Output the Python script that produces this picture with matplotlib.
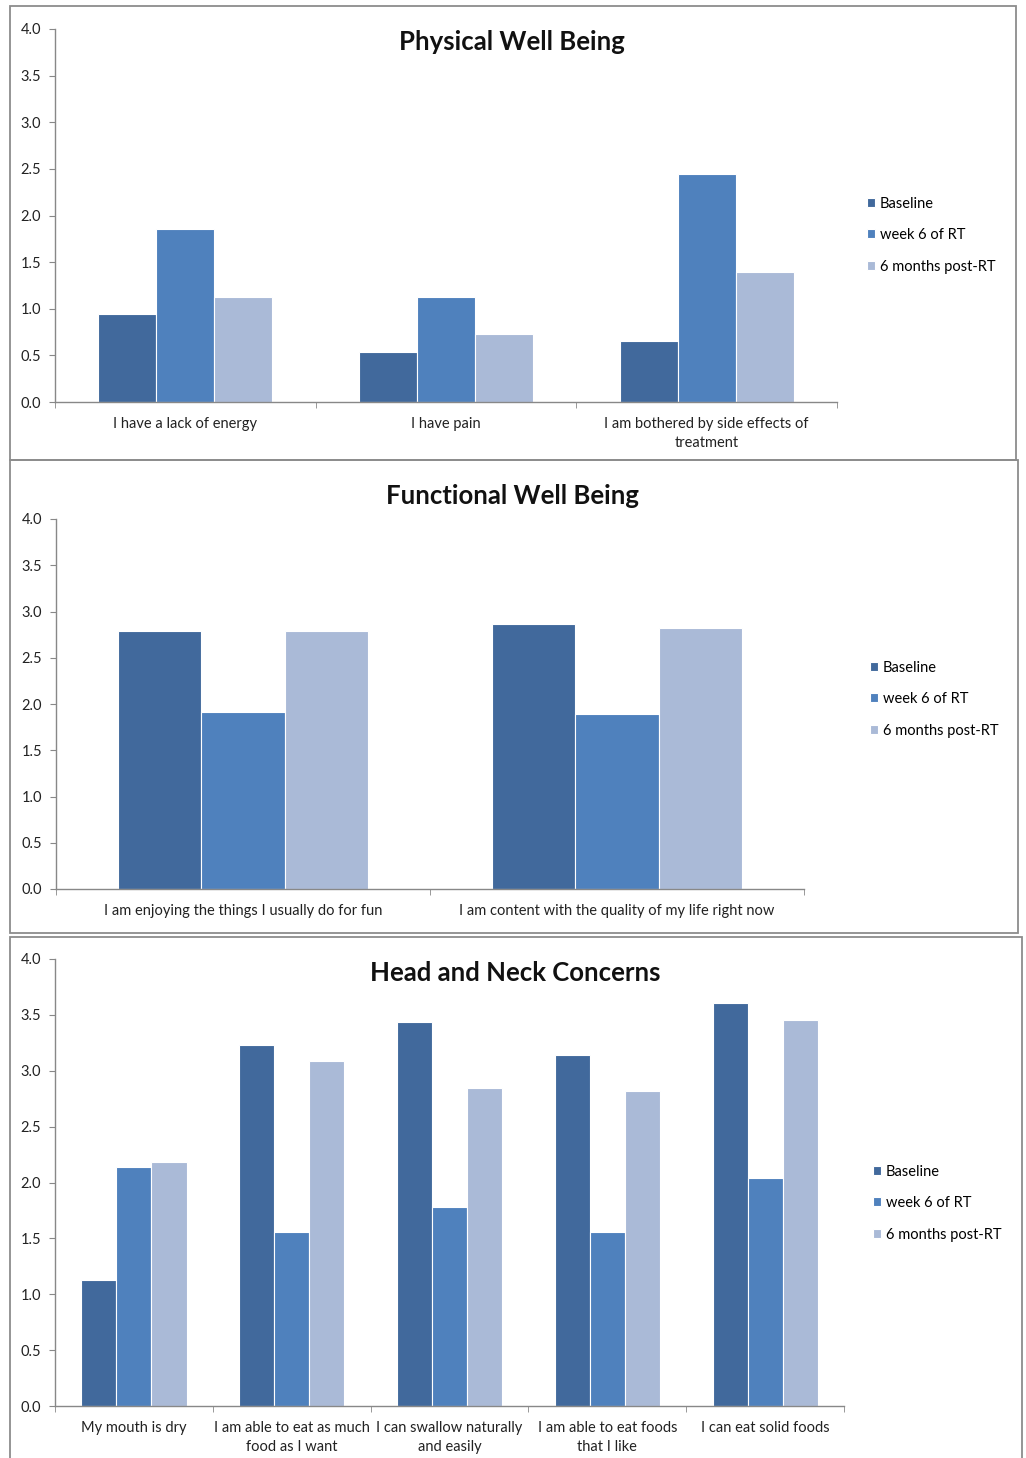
import matplotlib
matplotlib.use("Agg")
import matplotlib.pyplot as plt
import matplotlib.ticker as ticker
from matplotlib.patches import Rectangle
import numpy as np

# ===================== Data =====================
series = ["Baseline", "week 6 of RT", "6 months post-RT"]
colors = ["#41699C", "#4F81BD", "#AABAD7"]

phys_cats = ["I have a lack of energy", "I have pain",
             "I am bothered by side effects of\ntreatment"]
phys_base = [0.94, 0.54, 0.65]
phys_wk6 = [1.85, 1.13, 2.45]
phys_6mo = [1.13, 0.73, 1.39]

func_cats = ["I am enjoying the things I usually do for fun",
             "I am content with the quality of my life right now"]
func_base = [2.79, 2.86]
func_wk6 = [1.91, 1.89]
func_6mo = [2.79, 2.82]

hn_cats = ["My mouth is dry", "I am able to eat as much\nfood as I want",
           "I can swallow naturally\nand easily", "I am able to eat foods\nthat I like",
           "I can eat solid foods"]
hn_base = [1.13, 3.23, 3.44, 3.14, 3.61]
hn_wk6 = [2.14, 1.56, 1.78, 1.56, 2.04]
hn_6mo = [2.18, 3.09, 2.85, 2.82, 3.45]

titles = ["Physical Well Being", "Functional Well Being", "Head and Neck Concerns"]
y_ticks = [0.0, 0.5, 1.0, 1.5, 2.0, 2.5, 3.0, 3.5, 4.0]

# ===================== Style =====================
plt.rcParams["font.family"] = ["Lato", "DejaVu Sans"]
W, H = 1026, 1458
fig = plt.figure(figsize=(W / 100, H / 100), dpi=100)


def px_rect(l, t, r, b):
    return [l / W, 1 - b / H, (r - l) / W, (b - t) / H]


panels = [
    dict(box=(10, 6, 1016, 460), ax=(55, 29, 837, 402), cats=phys_cats,
         vals=[phys_base, phys_wk6, phys_6mo], title_xy=(512, 42), leg=(860, 235)),
    dict(box=(10, 460, 1018, 933), ax=(56, 519, 804, 889), cats=func_cats,
         vals=[func_base, func_wk6, func_6mo], title_xy=(513, 496), leg=(863, 699)),
    dict(box=(10, 937, 1022, 1470), ax=(55, 959, 844, 1406), cats=hn_cats,
         vals=[hn_base, hn_wk6, hn_6mo], title_xy=(515, 973), leg=(866, 1203)),
]

for p, title in zip(panels, titles):
    l, t, r, b = p["box"]
    fig.patches.append(Rectangle((l / W, 1 - b / H), (r - l) / W, (b - t) / H,
                                 transform=fig.transFigure, fill=False,
                                 edgecolor="#8C8C8C", linewidth=1.3))

    ax = fig.add_axes(px_rect(*p["ax"]))
    n = len(p["cats"])
    x = np.arange(n)
    w = 1 / 4.5
    handles = []
    for i, (vals, c, s) in enumerate(zip(p["vals"], colors, series)):
        h = ax.bar(x + (i - 1) * w, vals, width=w, color=c, edgecolor="white",
                   linewidth=0.8, label=s)
        handles.append(h)

    ax.set_xlim(-0.5, n - 0.5)
    ax.set_ylim(0, 4.0)
    ax.set_yticks(y_ticks)
    ax.yaxis.set_major_formatter(ticker.FormatStrFormatter("%.1f"))
    ax.set_xticks(x)
    ax.set_xticklabels(p["cats"], fontsize=10.5, color="#222222", linespacing=1.45)
    ax.set_xticks(np.arange(n + 1) - 0.5, minor=True)
    ax.tick_params(axis="x", which="major", length=0, pad=11)
    ax.tick_params(axis="x", which="minor", length=4, color="#888888", direction="out")
    ax.tick_params(axis="y", length=4, color="#888888", labelsize=10.5,
                   labelcolor="#222222", pad=6)
    for sp in ["top", "right"]:
        ax.spines[sp].set_visible(False)
    for sp in ["left", "bottom"]:
        ax.spines[sp].set_color("#888888")
        ax.spines[sp].set_linewidth(1.0)

    fig.text(p["title_xy"][0] / W, 1 - p["title_xy"][1] / H, title,
             ha="center", va="center", fontsize=18.5, fontweight="bold", color="#111111")

    lx, ly = p["leg"]
    ax.legend(handles=handles, loc="center left", bbox_to_anchor=(lx / W, 1 - ly / H),
              bbox_transform=fig.transFigure, frameon=False, fontsize=10.5,
              handlelength=0.55, handleheight=0.55, handletextpad=0.3,
              labelspacing=1.2, borderpad=0)

fig.savefig("out.png", dpi=100)
